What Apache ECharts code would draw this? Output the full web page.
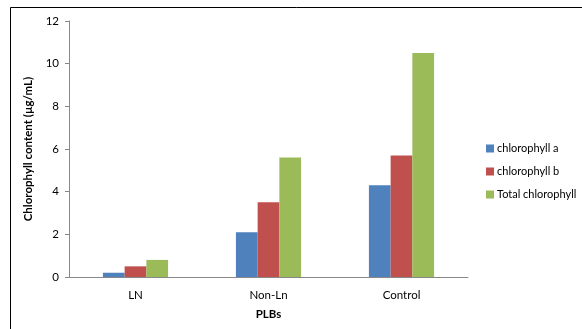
<!DOCTYPE html>
<html><head><meta charset="utf-8">
<script src="https://cdn.jsdelivr.net/npm/echarts@6/dist/echarts.min.js"></script>
<style>html,body{margin:0;padding:0;background:#fff}#c{width:582px;height:329px}</style>
</head><body><div id="c"></div>
<script>
const categories = ['LN', 'Non-Ln', 'Control'];
const seriesNames = ['chlorophyll a', 'chlorophyll b', 'Total chlorophyll'];
const chlA = [0.2, 2.1, 4.3];
const chlB = [0.5, 3.5, 5.7];
const total = [0.8, 5.6, 10.5];
const colors = ['#4f81bd', '#c0504d', '#9bbb59'];
const yTicks = [0, 2, 4, 6, 8, 10, 12];

const font = 'Lato, Open Sans, sans-serif';
const chart = echarts.init(document.getElementById('c'));
chart.setOption({
  animation: false,
  color: colors,
  textStyle: { fontFamily: font },
  graphic: [{ type: 'rect', shape: { x: 10.5, y: 7.5, width: 600, height: 400 }, style: { fill: 'none', stroke: '#000', lineWidth: 1 }, silent: true }],
  grid: { left: 69, right: 114, top: 21, bottom: 52 },
  legend: {
    orient: 'vertical', left: 486, top: 143, itemWidth: 8, itemHeight: 8, itemGap: 12, padding: 0,
    icon: 'rect', data: seriesNames,
    textStyle: { fontSize: 11, color: '#000', fontFamily: font, padding: [0, 0, 0, -2] }
  },
  xAxis: {
    type: 'category', data: categories,
    name: 'PLBs', nameLocation: 'middle', nameGap: 31,
    nameTextStyle: { fontWeight: 'bold', fontSize: 11.5, color: '#000', fontFamily: font },
    axisLine: { lineStyle: { color: '#888' } },
    axisTick: { show: false },
    axisLabel: { color: '#000', fontSize: 11.5, margin: 12, fontFamily: font }
  },
  yAxis: {
    type: 'value', min: yTicks[0], max: yTicks[yTicks.length - 1], interval: 2,
    name: 'Chlorophyll content (µg/mL)', nameLocation: 'middle', nameGap: 29,
    nameTextStyle: { fontWeight: 'bold', fontSize: 11.5, color: '#000', fontFamily: font },
    axisLine: { show: true, lineStyle: { color: '#888' } },
    axisTick: { show: true, length: 4, lineStyle: { color: '#888' } },
    axisLabel: { color: '#000', fontSize: 11.5, margin: 10, fontFamily: font },
    splitLine: { show: false }
  },
  series: [
    { name: seriesNames[0], type: 'bar', data: chlA, barGap: '0%', barCategoryGap: '51%' },
    { name: seriesNames[1], type: 'bar', data: chlB, barGap: '0%', barCategoryGap: '51%' },
    { name: seriesNames[2], type: 'bar', data: total, barGap: '0%', barCategoryGap: '51%' }
  ]
});
</script></body></html>
